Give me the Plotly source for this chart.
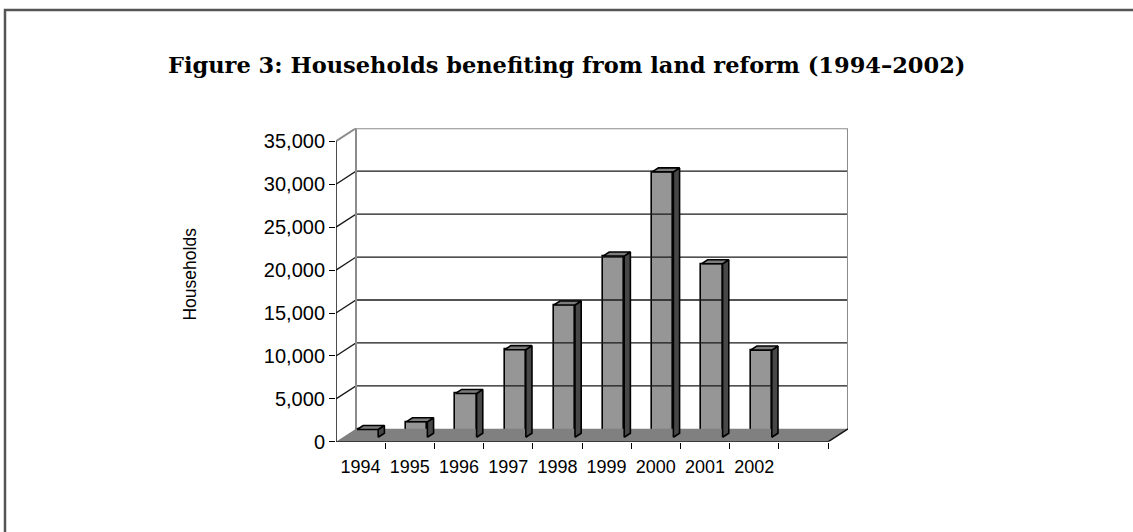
import plotly.graph_objects as go

# ---- data ----
years = ["1994", "1995", "1996", "1997", "1998", "1999", "2000", "2001", "2002"]
households = [900, 1800, 5100, 10200, 15400, 21100, 30900, 20200, 10150]
y_ticks = [0, 5000, 10000, 15000, 20000, 25000, 30000, 35000]
title_text = "Figure 3: Households benefiting from land reform (1994–2002)"
y_title = "Households"

# ---- geometry / style ----
W, H = 1133, 532          # target picture size (positions below are in these pixels)
H_PAGE = 544              # page height used so the photographed picture lands at H
PLOT_L, PLOT_R, PLOT_T, PLOT_B = 336, 848, 128, 441
DEPTH_X_PX, DEPTH_Y_PX = 20, 13
N_SLOTS = len(years) + 1
YMAX = y_ticks[-1]
slot_px = (PLOT_R - DEPTH_X_PX - PLOT_L) / N_SLOTS
val_px = (PLOT_B - PLOT_T - DEPTH_Y_PX) / YMAX
DX = DEPTH_X_PX / slot_px
DY = DEPTH_Y_PX / val_px
Z0, Z1 = 0.35, 0.66
BW = 0.43

FRONT = "#969696"
SIDE = "#474747"
TOP = "#7c7c7c"
FLOOR = "#808080"
WALL = "#8c8c8c"

fig = go.Figure()

def line_trace(xs, ys, color, width):
    return go.Scatter(x=xs, y=ys, mode="lines", line=dict(color=color, width=width),
                      hoverinfo="skip", showlegend=False, cliponaxis=False)

# back-wall gridlines and left-wall diagonals
gx, gy = [], []
for v in y_ticks[1:-1]:
    gx += [0, DX, N_SLOTS + DX, None]
    gy += [v, v + DY, v + DY, None]
fig.add_trace(line_trace(gx, gy, "#1a1a1a", 1.3))

# back wall outline + top diagonal
fig.add_trace(line_trace([DX, DX, N_SLOTS + DX, N_SLOTS + DX, None, 0, DX],
                         [DY, YMAX + DY, YMAX + DY, DY, None, YMAX, YMAX + DY], WALL, 2))

# floor
fig.add_trace(go.Scatter(x=[0, N_SLOTS, N_SLOTS + DX, DX, 0], y=[0, 0, DY, DY, 0],
                         mode="lines", fill="toself", fillcolor=FLOOR,
                         line=dict(width=0, color=FLOOR), hoverinfo="skip",
                         showlegend=False, cliponaxis=False))
fig.add_trace(line_trace([0, N_SLOTS, N_SLOTS + DX], [0, 0, DY], "#111111", 1.5))

# front y axis line
fig.add_trace(line_trace([0, 0], [0, YMAX], "#111111", 1.5))

# bars: side and top faces
b0 = Z0 * DY
sx, sy, tx, ty = [], [], [], []
for i, v in enumerate(households):
    xl = i + 0.5 + Z0 * DX - BW / 2
    xr = xl + BW
    ddx = (Z1 - Z0) * DX
    ddy = (Z1 - Z0) * DY
    sx += [xr, xr + ddx, xr + ddx, xr, xr, None]
    sy += [b0, b0 + ddy, b0 + v + ddy, b0 + v, b0, None]
    tx += [xl, xr, xr + ddx, xl + ddx, xl, None]
    ty += [b0 + v, b0 + v, b0 + v + ddy, b0 + v + ddy, b0 + v, None]
fig.add_trace(go.Scatter(x=sx, y=sy, mode="lines", fill="toself", fillcolor=SIDE,
                         line=dict(color="#000000", width=1.6), hoverinfo="skip",
                         showlegend=False, cliponaxis=False))
fig.add_trace(go.Scatter(x=tx, y=ty, mode="lines", fill="toself", fillcolor=TOP,
                         line=dict(color="#000000", width=1.6), hoverinfo="skip",
                         showlegend=False, cliponaxis=False))

# bars: front faces
fig.add_trace(go.Bar(x=[i + 0.5 + Z0 * DX for i in range(len(years))], y=households,
                     base=b0, width=BW,
                     marker=dict(color=FRONT, line=dict(color="#000000", width=1.6)),
                     showlegend=False, hoverinfo="skip"))

fig.update_layout(
    width=W, height=H_PAGE, autosize=False,
    margin=dict(l=0, r=0, t=0, b=0),
    paper_bgcolor="white", plot_bgcolor="rgba(0,0,0,0)",
    xaxis=dict(domain=[PLOT_L / W, PLOT_R / W], range=[0, N_SLOTS + DX],
               showgrid=False, zeroline=False, showline=False,
               tickmode="array", tickvals=[i + 0.5 for i in range(len(years))],
               ticktext=years, ticks="outside", ticklen=9,
               tickcolor="rgba(0,0,0,0)",
               tickfont=dict(family="Liberation Sans, Arial", size=18, color="#000000"),
               minor=dict(tickmode="array", tickvals=list(range(1, N_SLOTS + 1)),
                          ticks="outside", ticklen=6, tickcolor="#000000", tickwidth=1.3,
                          showgrid=False),
               fixedrange=True),
    yaxis=dict(domain=[1 - PLOT_B / H, 1 - PLOT_T / H], range=[0, YMAX + DY],
               showgrid=False, zeroline=False, showline=False,
               tickmode="array", tickvals=y_ticks, tickformat=",",
               ticks="outside", ticklen=6, tickcolor="#000000", tickwidth=1.3,
               tickfont=dict(family="Liberation Sans, Arial", size=20, color="#000000"),
               fixedrange=True),
    bargap=0,
)

fig.add_annotation(text=title_text, xref="paper", yref="paper",
                   x=566 / W, y=1 - 65 / H, xanchor="center", yanchor="middle",
                   showarrow=False,
                   font=dict(family="DejaVu Serif", size=22.5, color="#000000", weight="bold"))
fig.add_annotation(text=y_title, xref="paper", yref="paper",
                   x=190 / W, y=1 - 274 / H, xanchor="center", yanchor="middle",
                   textangle=-90, showarrow=False,
                   font=dict(family="Liberation Sans, Arial", size=17.5, color="#000000"))

# outer frame
fig.add_shape(type="rect", xref="paper", yref="paper",
              x0=5 / W, x1=1.05, y0=-0.05, y1=1 - 10 / H,
              line=dict(color="#555555", width=2.5), layer="below")

fig.write_html("out.html",
               config={"displayModeBar": False, "responsive": False},
               post_script="document.body.style.margin='0px';document.body.style.overflow='hidden';")
